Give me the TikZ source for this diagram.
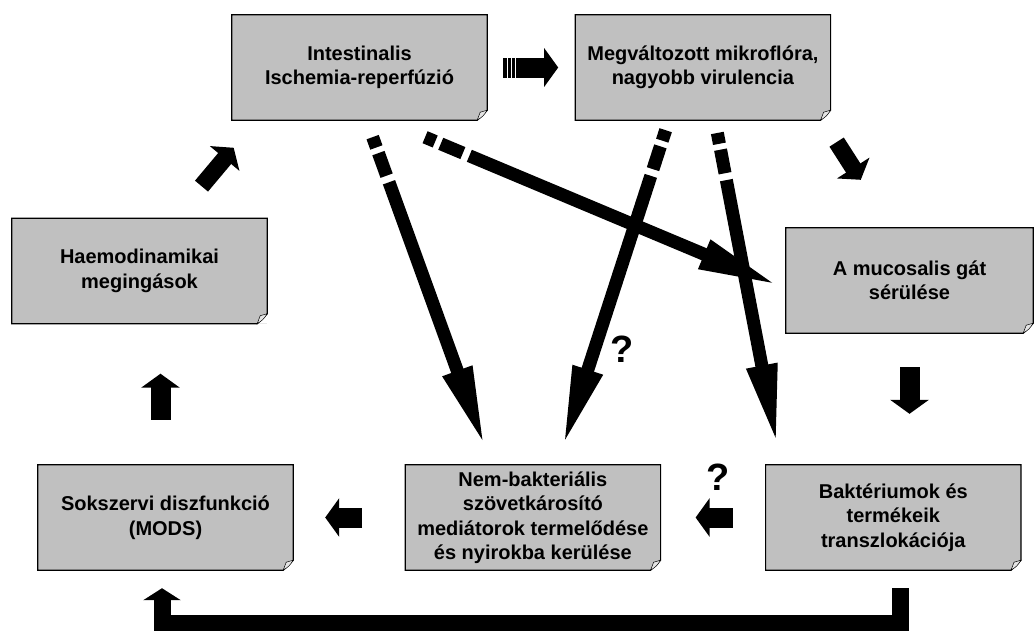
\documentclass[tikz,border=0pt]{standalone}
\usepackage{fontspec}
\setmainfont{Liberation Sans}
\usepackage{tikz}
\usetikzlibrary{arrows.meta}
\usetikzlibrary{positioning}
\definecolor{boxgray}{RGB}{192,192,192}
\definecolor{foldgray}{RGB}{228,228,228}
\newcommand{\boxfont}{\bfseries\fontsize{20}{24.5}\selectfont}
\newcommand{\askfont}{\bfseries\fontsize{38}{42}\selectfont}
\tikzset{
    notebox/.style={fill=boxgray, minimum width=255pt, minimum height=105pt, inner sep=2pt, align=center, font=\boxfont},
    bigarrow/.style={line width=13pt, -{Triangle[length=82pt,width=28pt]}},
    blockarrow/.style={line width=20pt, -{Triangle[length=14pt,width=38pt]}},
    dashstart/.style={dash pattern=on 11pt off 6pt on 24pt off 7pt on 2000pt off 10pt},
    asklabel/.style={inner sep=0pt, font=\askfont},
  }

\begin{document}
\begin{tikzpicture}[x=1pt,y=-1pt]
  \useasboundingbox (0,0) rectangle (1036,630);
  \node[notebox] (isch) at (359.5,67.5) {Intestinalis\\Ischemia-reperfúzió};
  \node[notebox, right=88pt of isch] (mikro) {Megváltozott mikroflóra,\\nagyobb virulencia};
  \node[notebox] (haemo) at (139.5,271) {Haemodinamikai\\megingások};
  \node[notebox, minimum width=247pt] (mucos) at (909.5,280.5) {A mucosalis gát\\sérülése};
  \node[notebox] (mods) at (165.5,517.5) {Sokszervi diszfunkció\\(MODS)};
  \node[notebox, right=112pt of mods] (nonbac) {Nem-bakteriális\\szövetkárosító\\mediátorok termelődése\\és nyirokba kerülése};
  \node[notebox, right=105pt of nonbac] (bact) {Baktériumok és\\termékeik\\transzlokációja};

  % frame and turned-down corner
  \foreach \n in {isch,mikro,haemo,mucos,mods,nonbac,bact}{
    \fill[white] ([yshift=10pt]\n.south east) -- (\n.south east) -- ([xshift=-10pt]\n.south east) -- cycle;
    \draw[line width=1.2pt] (\n.north west) -- (\n.north east) -- ([yshift=10pt]\n.south east) -- ([xshift=-10pt]\n.south east) -- (\n.south west) -- cycle;
    \filldraw[fill=foldgray, line width=0.5pt] ([yshift=10pt]\n.south east) .. controls ([xshift=-4pt,yshift=4pt]\n.south east) .. ([xshift=-10pt]\n.south east) -- ([xshift=-7pt,yshift=8pt]\n.south east) -- cycle;
  }

  % the cycle of small arrows
  \draw[blockarrow, shorten <=16pt, shorten >=17pt] (isch.east) -- (mikro.west);
  \foreach \s in {20,24,28}
    \draw[white, line width=1.2pt] ([xshift=\s]isch.east) ++(0,-10) -- ++(0,20);
  \draw[blockarrow, line width=17pt, shorten <=26pt, shorten >=57pt] ([xshift=-8pt]mikro.south east) -- ([xshift=-18pt]mucos.north);
  \draw[blockarrow, shorten <=34pt, shorten >=51pt] (mucos.south) -- (mucos.south |- bact.north);
  \draw[blockarrow, shorten <=33pt, shorten >=35pt] (bact.west) -- node[above=17.5pt, xshift=5pt, asklabel] {?} (nonbac.east);
  \draw[blockarrow, shorten <=43pt, shorten >=32pt] (nonbac.west) -- (mods.east);
  \draw[blockarrow, shorten <=45pt, shorten >=50pt] ([xshift=-5pt]mods.north) -- ([xshift=-5pt]mods.north |- haemo.south);
  \draw[blockarrow, line width=17pt, shorten <=42pt, shorten >=36pt] ([xshift=35pt]haemo.north) -- ([xshift=25pt]isch.south west);
  \draw[blockarrow, line width=17pt, -{Triangle[length=12pt,width=37pt]}, shorten <=18pt, shorten >=18pt] ([xshift=7pt]bact.south) -- ++(0,53) -| ([xshift=-3.5pt]mods.south);

  % long arrows
  \draw[bigarrow, dashstart, shorten <=18pt, shorten >=18pt] ([xshift=7pt]isch.south) -- ([xshift=-41.5pt]nonbac.north);
  \draw[bigarrow, dashstart, shorten <=44pt, shorten >=6.5pt] ([xshift=25pt]isch.south) -- ([yshift=-8pt]mucos.west);
  \draw[bigarrow, dashstart, shorten <=10.5pt, shorten >=18pt] ([xshift=-34pt]mikro.south) -- node[pos=0.664, right=9pt, asklabel] {?} ([xshift=24pt]nonbac.north);
  \draw[bigarrow, dashstart, shorten <=13pt, shorten >=19pt] ([xshift=12pt]mikro.south) -- ([xshift=-112.5pt]bact.north);
\end{tikzpicture}
\end{document}
